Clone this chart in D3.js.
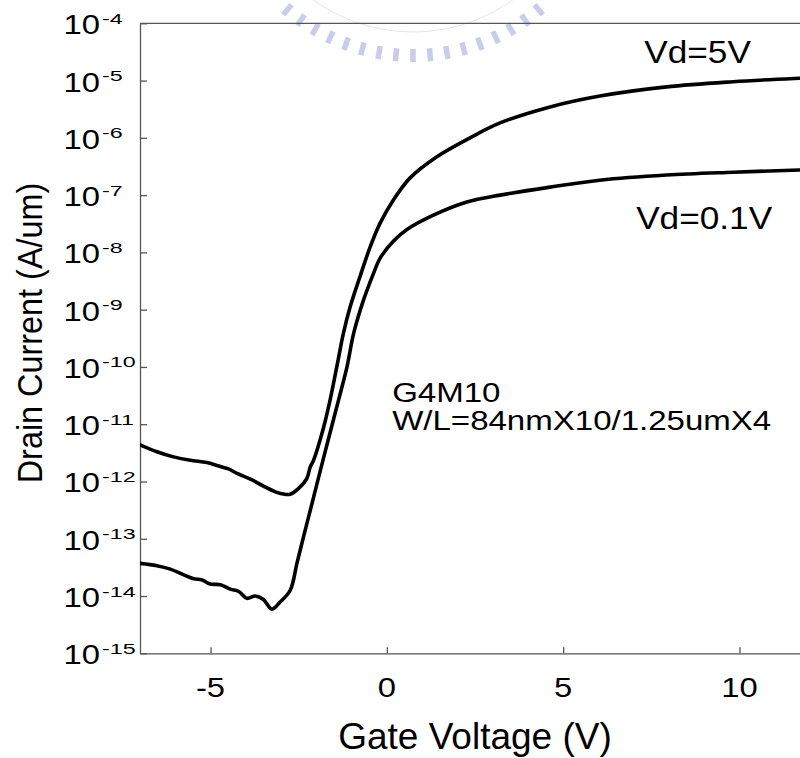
<!DOCTYPE html>
<html>
<head>
<meta charset="utf-8">
<script src="https://cdn.jsdelivr.net/npm/d3@7"></script>
<style>
  html, body { margin: 0; padding: 0; background: #fff; }
  svg { display: block; font-family: "Liberation Sans", Arial, sans-serif; }
</style>
</head>
<body>
<svg id="chart" width="800" height="758"></svg>
<script>
// Id–Vg transfer curves, two drain biases
const gateVoltageHigh = [-7, -6.52, -6.05, -5.57, -5.10, -4.72, -4.49, -4.25, -3.87, -3.50, -3.12, -2.93, -2.74, -2.50, -2.27, -2.17, -2.08, -1.80, -1.61, -1.42, -1.23, -1.04, -0.76, -0.47, -0.19, 0.19, 0.66, 1.42, 2.36, 3.21, 4.63, 6.04, 7.93, 9.82, 11.71, 12];
const drainCurrentHigh = [4.37e-12, 3.31e-12, 2.69e-12, 2.34e-12, 2.14e-12, 1.82e-12, 1.66e-12, 1.38e-12, 1.10e-12, 8.32e-13, 6.46e-13, 6.03e-13, 6.0e-13, 7.59e-13, 1.12e-12, 1.82e-12, 2.34e-12, 8.5e-12, 2.63e-11, 1.0e-10, 3.89e-10, 1.12e-9, 3.80e-9, 1.26e-8, 3.24e-8, 8.3e-8, 2.0e-7, 4.68e-7, 1.0e-6, 1.82e-6, 3.47e-6, 5.37e-6, 7.76e-6, 9.55e-6, 1.10e-5, 1.12e-5];

const gateVoltageLow = [-7, -6.52, -6.14, -5.76, -5.48, -5.24, -5.01, -4.72, -4.44, -4.20, -3.97, -3.73, -3.50, -3.26, -3.02, -2.74, -2.55, -2.36, -2.17, -1.80, -1.37, -1.13, -0.94, -0.66, -0.38, -0.19, 0.19, 0.57, 1.32, 2.27, 3.21, 4.63, 6.04, 7.93, 9.82, 11.71, 12];
const drainCurrentLow = [3.72e-14, 3.39e-14, 2.95e-14, 2.34e-14, 2.0e-14, 1.91e-14, 1.62e-14, 1.58e-14, 1.32e-14, 1.20e-14, 9.12e-15, 1.0e-14, 8.71e-15, 5.89e-15, 7.94e-15, 1.26e-14, 3.72e-14, 1.10e-13, 3.16e-13, 2.51e-12, 2.63e-11, 1.0e-10, 3.89e-10, 1.48e-9, 4.27e-9, 7.94e-9, 1.58e-8, 2.51e-8, 4.47e-8, 7.59e-8, 1.0e-7, 1.38e-7, 1.82e-7, 2.24e-7, 2.51e-7, 2.75e-7, 2.78e-7];

// Axis ticks
const xTickValues = [-5, 0, 5, 10];
const yTickExponents = [-4, -5, -6, -7, -8, -9, -10, -11, -12, -13, -14, -15];

// Text
const xAxisTitle = "Gate Voltage (V)";
const yAxisTitle = "Drain Current (A/um)";
const curveLabels = ["Vd=5V", "Vd=0.1V"];
const deviceLabels = ["G4M10", "W/L=84nmX10/1.25umX4"];

const svg = d3.select("#chart");
const plot = { left: 140, right: 810, top: 23.3, bottom: 653.3 };

const x = d3.scaleLinear().domain([-7, 12]).range([plot.left, plot.right]);
const y = d3.scaleLog().domain([1e-15, 1e-4]).range([plot.bottom, plot.top]);

// Faint seal in the top margin
const seal = svg.append("g");
const sealCx = 413, sealCy = -140, sealR = 196;
seal.append("circle")
  .attr("cx", sealCx).attr("cy", sealCy).attr("r", 172)
  .attr("fill", "none").attr("stroke", "#e3e5f3").attr("stroke-width", 1);
d3.range(-40, 41, 5).forEach(a => {
  const t = a * Math.PI / 180;
  const r0 = sealR - 7, r1 = sealR + 6;
  seal.append("line")
    .attr("x1", sealCx + r0 * Math.sin(t)).attr("y1", sealCy + r0 * Math.cos(t))
    .attr("x2", sealCx + r1 * Math.sin(t)).attr("y2", sealCy + r1 * Math.cos(t))
    .attr("stroke", "#cacdea").attr("stroke-width", 5.5);
});

// Stretched text helper
function label(parent, px, py, str, size, sx, anchor) {
  return parent.append("text")
    .attr("transform", `translate(${px},${py}) scale(${sx},1)`)
    .attr("text-anchor", anchor)
    .style("font-size", size + "px")
    .attr("fill", "#000")
    .text(str);
}

const axisColor = "#555";

// Bottom axis, ticks pointing inward
const gx = svg.append("g")
  .attr("transform", `translate(0,${plot.bottom})`)
  .call(d3.axisBottom(x).tickValues(xTickValues).tickSizeInner(-6).tickSizeOuter(0).tickFormat(""));
// Left axis, ticks pointing inward
const gy = svg.append("g")
  .attr("transform", `translate(${plot.left},0)`)
  .call(d3.axisLeft(y).tickValues(yTickExponents.map(e => Math.pow(10, e))).tickSizeInner(-7).tickSizeOuter(0).tickFormat(""));
[gx, gy].forEach(g => {
  g.select(".domain").attr("stroke", axisColor).attr("stroke-width", 1.3);
  g.selectAll(".tick line").attr("stroke", axisColor).attr("stroke-width", 1.3);
});
// Top frame line
svg.append("line")
  .attr("x1", plot.left).attr("x2", plot.right)
  .attr("y1", plot.top).attr("y2", plot.top)
  .attr("stroke", axisColor).attr("stroke-width", 1.3);

// X tick labels
xTickValues.forEach(v => {
  label(svg, x(v), 696.7, String(v), 28, 1.17, "middle");
});

// Y tick labels: 10 with superscript exponent
yTickExponents.forEach(e => {
  const py = y(Math.pow(10, e));
  label(svg, 100, py + 11, "10", 28, 1.17, "end");
  label(svg, 102, py + 0.5, String(e), 15.5, 1.5, "start");
});

// Axis titles
svg.append("text")
  .attr("x", (plot.left + plot.right) / 2).attr("y", 749)
  .attr("text-anchor", "middle")
  .style("font-size", "37px")
  .text(xAxisTitle);
svg.append("text")
  .attr("transform", "translate(42,333) rotate(-90) scale(0.9,1)")
  .attr("text-anchor", "middle")
  .style("font-size", "36px")
  .text(yAxisTitle);

// Curves
svg.append("defs").append("clipPath").attr("id", "plot-clip")
  .append("rect")
  .attr("x", plot.left).attr("y", plot.top)
  .attr("width", plot.right - plot.left).attr("height", plot.bottom - plot.top);

const line = d3.line()
  .x(d => x(d[0]))
  .y(d => y(d[1]))
  .curve(d3.curveCatmullRom.alpha(0.5));

const curves = svg.append("g").attr("clip-path", "url(#plot-clip)");
[[gateVoltageHigh, drainCurrentHigh], [gateVoltageLow, drainCurrentLow]].forEach(([vg, id]) => {
  curves.append("path")
    .datum(d3.zip(vg, id))
    .attr("d", line)
    .attr("fill", "none")
    .attr("stroke", "#000")
    .attr("stroke-width", 3.6)
    .attr("stroke-linejoin", "round")
    .attr("stroke-linecap", "round");
});

// Annotations
label(svg, x(7.3), y(Math.pow(10, -4.70)), curveLabels[0], 32, 1.1, "start");
label(svg, x(7.07), y(Math.pow(10, -7.60)), curveLabels[1], 32, 1.1, "start");
label(svg, x(0.15), y(Math.pow(10, -10.61)), deviceLabels[0], 28, 1.18, "start");
label(svg, x(0.15), y(Math.pow(10, -11.10)), deviceLabels[1], 28, 1.18, "start");
</script>
</body>
</html>
